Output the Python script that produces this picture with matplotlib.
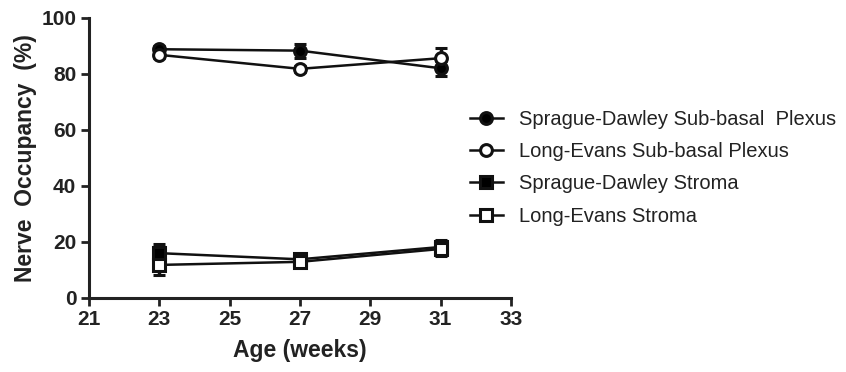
import matplotlib.pyplot as plt

plt.rcParams['font.family'] = ['Liberation Sans', 'DejaVu Sans']

weeks = [23, 27, 31]
sd_plexus = [88.8, 88.3, 82.0]
sd_plexus_err = [1.0, 2.5, 2.7]
le_plexus = [86.8, 81.8, 85.6]
le_plexus_err = [1.0, 1.0, 3.5]
sd_stroma = [16.0, 13.8, 18.2]
sd_stroma_err = [3.3, 2.0, 2.5]
le_stroma = [11.8, 12.9, 17.5]
le_stroma_err = [3.6, 1.5, 2.5]

labels = ['Sprague-Dawley Sub-basal  Plexus', 'Long-Evans Sub-basal Plexus',
          'Sprague-Dawley Stroma', 'Long-Evans Stroma']

fig = plt.figure(figsize=(8.46, 3.72), dpi=100)
ax = fig.add_axes([0.105, 0.199, 0.499, 0.753])

series = [
    (sd_plexus, sd_plexus_err, 'o', 'black'),
    (le_plexus, le_plexus_err, 'o', 'white'),
    (sd_stroma, sd_stroma_err, 's', 'black'),
    (le_stroma, le_stroma_err, 's', 'white'),
]
handles = []
for (vals, err, mk, fc), lab in zip(series, labels):
    h = ax.errorbar(weeks, vals, yerr=err, fmt='-' + mk, color='#111111',
                    mfc=fc, mec='#111111', mew=2.2, ms=8.5, lw=1.8,
                    elinewidth=2.5, capsize=4, capthick=2.5, label=lab)
    handles.append(h)

ax.set_xlim(21, 33)
ax.set_ylim(0, 100)
ax.set_xticks(range(21, 34, 2))
ax.set_yticks(range(0, 101, 20))
for s in ['top', 'right']:
    ax.spines[s].set_visible(False)
for s in ['left', 'bottom']:
    ax.spines[s].set_linewidth(2.2)
    ax.spines[s].set_color('#222222')
ax.tick_params(width=2, length=6, color='#222222', labelsize=15, pad=3)
for t in ax.get_xticklabels() + ax.get_yticklabels():
    t.set_fontweight('bold')
    t.set_color('#222222')
ax.set_xlabel('Age (weeks)', fontsize=16.5, fontweight='bold', color='#222222', labelpad=7)
ax.set_ylabel('Nerve  Occupancy  (%)', fontsize=16.5, fontweight='bold', color='#222222', labelpad=3)

leg = fig.legend(handles=[h[0] for h in handles], labels=labels,
                 loc='upper left', bbox_to_anchor=(0.556, 0.705), frameon=False,
                 fontsize=14.5, handlelength=1.6, labelspacing=0.66, handletextpad=0.8,
                 borderpad=0, borderaxespad=0)
for t in leg.get_texts():
    t.set_color('#222222')

fig.savefig('out.png', dpi=100)
